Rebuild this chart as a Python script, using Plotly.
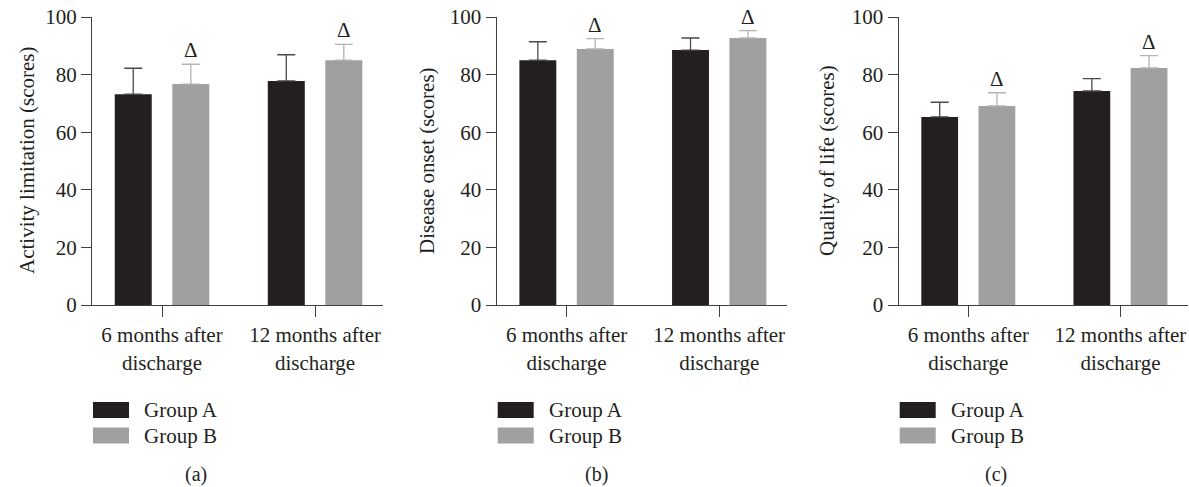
import plotly.graph_objects as go

# ---- data -------------------------------------------------------------
categories = ["6 months after<br>discharge", "12 months after<br>discharge"]
groups = ["Group A", "Group B"]

activity_a = [73.2, 77.8]
activity_a_sd = [9.0, 9.1]
activity_b = [76.7, 85.0]
activity_b_sd = [6.9, 5.5]

onset_a = [85.0, 88.5]
onset_a_sd = [6.4, 4.2]
onset_b = [88.9, 92.7]
onset_b_sd = [3.6, 2.6]

qol_a = [65.3, 74.3]
qol_a_sd = [5.1, 4.3]
qol_b = [69.1, 82.3]
qol_b_sd = [4.6, 4.3]

y_titles = ["Activity limitation (scores)", "Disease onset (scores)", "Quality of life (scores)"]
panel_tags = ["(a)", "(b)", "(c)"]
y_ticks = [0, 20, 40, 60, 80, 100]
sig_mark = "\u0394"

# ---- styling ----------------------------------------------------------
W, H = 1189, 487
FONT = "Liberation Serif"
TXT = "#231f20"
DARK = "#231f20"
GREY = "#a0a0a0"
DARK_ERR = "#4a4a4a"
GREY_ERR = "#b4b4b4"
AXIS = "#404040"
FS = 21

panels = [
    (activity_a, activity_a_sd, activity_b, activity_b_sd),
    (onset_a, onset_a_sd, onset_b, onset_b_sd),
    (qol_a, qol_a_sd, qol_b, qol_b_sd),
]

# plot-area placement in pixels (left, right) and vertical extent
x_px = [(92, 383), (496.7, 787), (898.7, 1188)]
top_px, bot_px = 17, 305
title_cx = [27, 427, 827]
tag_cx = [196, 596, 996]


def px(x):
    return x / W


def py(y):
    return 1 - y / H


fig = go.Figure()
annotations = []
shapes = []

for i, (a, a_sd, b, b_sd) in enumerate(panels):
    sfx = "" if i == 0 else str(i + 1)
    xa, ya = "x" + sfx, "y" + sfx
    for vals, sd, col, ecol, name in ((a, a_sd, DARK, DARK_ERR, groups[0]),
                                      (b, b_sd, GREY, GREY_ERR, groups[1])):
        fig.add_trace(go.Bar(
            x=categories, y=vals, name=name, marker=dict(color=col, line=dict(width=0)),
            error_y=dict(type="data", array=sd, arrayminus=[0] * len(sd), symmetric=False,
                         color=ecol, thickness=1.3, width=9),
            xaxis=xa, yaxis=ya, showlegend=False,
        ))
    # significance marks above group B
    for j, (v, s) in enumerate(zip(b, b_sd)):
        annotations.append(dict(
            x=j + 0.188, y=v + s, xref=xa, yref=ya, text=sig_mark, showarrow=False,
            yanchor="bottom", yshift=0, font=dict(family=FONT, size=FS, color=TXT),
        ))

    dom_x = [px(x_px[i][0]), px(x_px[i][1])]
    dom_y = [py(bot_px), py(top_px)]
    fig.update_layout(**{
        "xaxis" + sfx: dict(
            domain=dom_x, anchor=ya, type="category", range=[-0.4575, 1.444],
            showline=True, linecolor=AXIS, linewidth=1.3, showgrid=False, zeroline=False,
            ticks="outside", ticklen=11, tickwidth=1.3, tickcolor=AXIS, automargin=False,
            tickfont=dict(family=FONT, size=FS, color=TXT), fixedrange=True,
        ),
        "yaxis" + sfx: dict(
            domain=dom_y, anchor=xa, range=[0, 100], tickvals=y_ticks,
            showline=True, linecolor=AXIS, linewidth=1.3, showgrid=False, zeroline=False,
            ticks="outside", ticklen=10, tickwidth=1.3, tickcolor=AXIS, automargin=False,
            tickfont=dict(family=FONT, size=FS, color=TXT), fixedrange=True,
        ),
    })

    # axis title
    annotations.append(dict(
        x=px(title_cx[i]), y=py((top_px + bot_px) / 2), xref="paper", yref="paper",
        text=y_titles[i], textangle=-90, showarrow=False, xanchor="center", yanchor="middle",
        font=dict(family=FONT, size=FS, color=TXT),
    ))

    # legend swatches and labels
    lx = x_px[i][0] + 1
    for k, (col, name, yc) in enumerate(((DARK, groups[0], 410), (GREY, groups[1], 435.5))):
        shapes.append(dict(
            type="rect", xref="paper", yref="paper", x0=px(lx), x1=px(lx + 36),
            y0=py(yc - 8), y1=py(yc + 8), fillcolor=col, line=dict(width=0),
        ))
        annotations.append(dict(
            x=px(lx + 49), y=py(yc), xref="paper", yref="paper", text=name,
            showarrow=False, xanchor="left", yanchor="middle",
            font=dict(family=FONT, size=FS, color=TXT),
        ))

    # panel tag
    annotations.append(dict(
        x=px(tag_cx[i]), y=py(474), xref="paper", yref="paper", text=panel_tags[i],
        showarrow=False, xanchor="center", yanchor="middle",
        font=dict(family=FONT, size=FS - 1, color=TXT),
    ))

fig.update_layout(
    width=W, height=H, margin=dict(l=0, r=0, t=0, b=0, autoexpand=False),
    paper_bgcolor="white", plot_bgcolor="white",
    barmode="group", bargap=0.248, bargroupgap=0.357,
    annotations=annotations, shapes=shapes, showlegend=False,
    font=dict(family=FONT, size=FS, color=TXT),
)

fig.write_html("out.html", config={"displayModeBar": False})
